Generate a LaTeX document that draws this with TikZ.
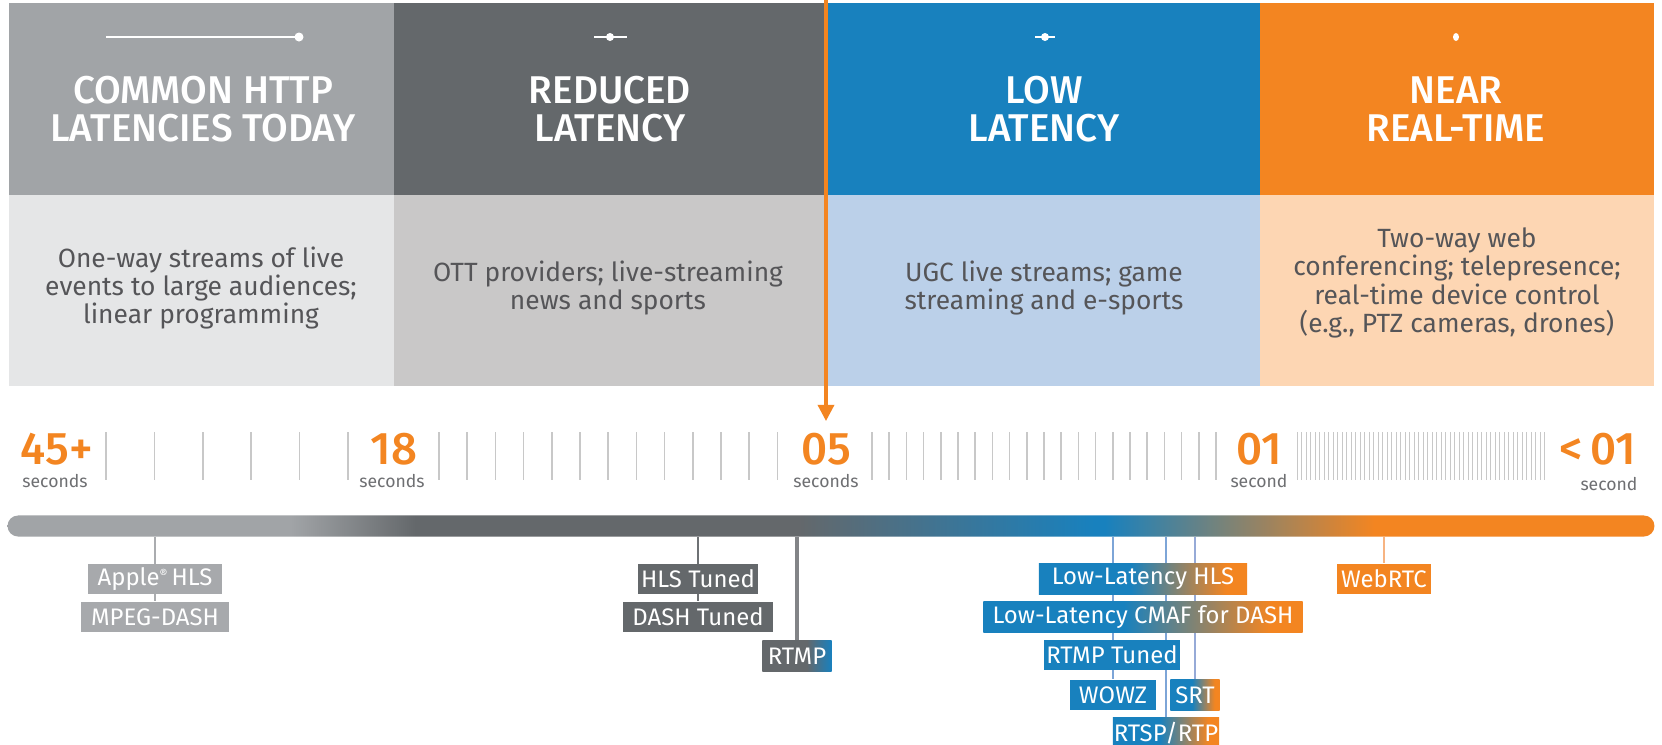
\documentclass[tikz,border=0pt]{standalone}
\usepackage{fontspec}
\setmainfont{Fira Sans}
\newfontfamily\mediumfont{Fira Sans Medium}
\usetikzlibrary{arrows.meta}
\usetikzlibrary{backgrounds}

\definecolor{httpgray}{RGB}{161,164,167}
\definecolor{redgray}{RGB}{100,104,107}
\definecolor{lowblue}{RGB}{24,129,190}
\definecolor{nearorange}{RGB}{243,133,33}
\definecolor{httppale}{RGB}{229,230,231}
\definecolor{redpale}{RGB}{201,200,200}
\definecolor{lowpale}{RGB}{187,208,233}
\definecolor{nearpale}{RGB}{253,214,179}
\definecolor{descgray}{RGB}{85,85,88}
\definecolor{unitgray}{RGB}{110,111,114}
\definecolor{tickgray}{RGB}{200,200,200}
\definecolor{applegray}{RGB}{167,169,172}
\definecolor{httpline}{RGB}{170,172,175}
\definecolor{redline}{RGB}{110,113,116}
\definecolor{rtmpline}{RGB}{130,132,135}
\definecolor{lowline}{RGB}{125,165,215}
\definecolor{srtline}{RGB}{150,170,215}
\definecolor{nearline}{RGB}{247,180,130}

\pgfdeclarehorizontalshading{latencybar}{100bp}{color(0bp)=(httpgray); color(33.6bp)=(httpgray); color(37.4bp)=(redgray); color(49bp)=(redgray); color(58bp)=(lowblue); color(58.3bp)=(lowblue); color(66.5bp)=(nearorange); color(100bp)=(nearorange)}
\pgfdeclarehorizontalshading{blueorange}{100bp}{color(0bp)=(lowblue); color(47bp)=(lowblue); color(70bp)=(nearorange); color(100bp)=(nearorange)}
\pgfdeclarehorizontalshading{grayblue}{100bp}{color(0bp)=(redgray); color(57bp)=(redgray); color(75bp)=(lowblue); color(100bp)=(lowblue)}

\begin{document}
\begin{tikzpicture}
[x=0.01cm,y=-0.01cm,%
  headText/.style={text=white,align=center,font=\mediumfont\fontsize{11}{10.8}\selectfont},%
  descText/.style={text=descgray,align=center,font=\fontsize{7.5}{8.05}\selectfont},%
  bigNum/.style={text=nearorange,inner sep=0pt,font=\mediumfont\fontsize{13}{13}\selectfont},%
  unitText/.style={text=unitgray,inner sep=0pt,font=\fontsize{5}{5}\selectfont},%
  tickDecorate/.style={tickgray,line width=0.4pt},%
  tagDecorate/.style={minimum height=0.3cm,inner sep=0pt,text=white,font=\fontsize{6.8}{7}\selectfont},%
  lineDecorate/.style={line width=0.45pt}]
\useasboundingbox (0,0) rectangle (1662,745);
\begin{scope}[on background layer]
\fill[white] (0,0) rectangle (1662,745);
\end{scope}
%% header and description cells
\foreach \xa/\xb/\top/\bottom in {9/394/httpgray/httppale, 394/827/redgray/redpale,
  827/1260/lowblue/lowpale, 1260/1654/nearorange/nearpale}
{
  \fill[\top] (\xa,3) rectangle (\xb,195);
  \fill[\bottom] (\xa,195) rectangle (\xb,386);
}
%% latency icons
\draw[white,line width=0.6pt] (106,37) -- (299,37);
\fill[white] (299,37) circle (4.5);
\draw[white,line width=0.6pt] (594,37) -- (627,37);
\fill[white] (610,37) circle (4);
\draw[white,line width=0.6pt] (1035,37) -- (1055,37);
\fill[white] (1045,37) circle (4);
\fill[white] (1456,37) ellipse (3 and 4);
%% header labels
\node[headText] (thttp) at (203,109) {COMMON HTTP\\LATENCIES TODAY};
\node[headText] (tred) at (610,109) {REDUCED\\LATENCY};
\node[headText] (tlow) at (1044,109) {LOW\\LATENCY};
\node[headText] (tnear) at (1456,109) {NEAR\\REAL-TIME};
%% descriptions
\node[descText] (dhttp) at (201,288) {One-way streams of live\\events to large audiences;\\linear programming};
\node[descText] (dred) at (608,288) {OTT providers; live-streaming\\news and sports};
\node[descText] (dlow) at (1044,288) {UGC live streams; game\\streaming and e-sports};
\node[descText] (dnear) at (1457,283) {Two-way web\\conferencing; telepresence;\\real-time device control\\(e.g., PTZ cameras, drones)};
%% pointer
\coordinate (pointer) at (826,0);
\coordinate (pointerTip) at (826,421);
\draw[nearorange,line width=0.9pt,-{Triangle[width=4.6pt,length=4.6pt]}] (pointer) -- (pointerTip);
%% scale and its labels
\foreach \nodename/\x/\num/\unit/\ux/\uy in {
  n45/57/45+/seconds/55/481, n18/394/18/seconds/392/481,
  n05/826/05/seconds/826/481, n01/1259/01/second/1259/481,
  nlt/1598/{<\,01}/second/1609/484}
{
  \node[bigNum] (\nodename) at (\x,449) {\num};
  \node[unitText] (u\nodename) at (\ux,\uy) {\unit};
}
\foreach \i in {0,...,5} \draw[tickDecorate] ({106+48.4*\i},432) -- ++(0,48);
\foreach \i in {0,...,12} \draw[tickDecorate] ({439+28.2*\i},432) -- ++(0,48);
\foreach \i in {0,...,20} \draw[tickDecorate] ({872+17.2*\i},432) -- ++(0,48);
\foreach \i in {0,...,55} \draw[tickgray,line width=0.25pt] ({1297+4.5*\i},432) -- ++(0,48);
%% latency bar
\node[shade,shading=latencybar,rounded corners=0.105cm,inner sep=0pt,
  minimum width=16.46cm,minimum height=0.21cm] (bar) at (831,526) {};
%% protocol tags
\node[tagDecorate,fill=applegray,minimum width=1.33cm] (apple) at (155,579) {Apple\raisebox{0.55ex}{\fontsize{3.5}{4}\selectfont ®}\,HLS};
\node[tagDecorate,fill=applegray,minimum width=1.48cm] (mpeg) at (155,617) {MPEG-DASH};
\node[tagDecorate,fill=redgray,minimum width=1.2cm] (hlstuned) at (698,579) {HLS Tuned};
\node[tagDecorate,fill=redgray,minimum width=1.5cm] (dashtuned) at (698,617) {DASH Tuned};
\node[tagDecorate,shade,shading=grayblue,minimum width=0.69cm] (rtmp) at (797,656) {RTMP};
\node[tagDecorate,shade,shading=blueorange,minimum width=2.08cm] (llhls) at (1143,579) {Low-Latency HLS};
\node[tagDecorate,shade,shading=blueorange,minimum width=3.19cm] (llcmaf) at (1143,617) {Low-Latency CMAF for DASH};
\node[tagDecorate,fill=lowblue,minimum width=1.35cm] (rtmptuned) at (1112,655) {RTMP Tuned};
\node[tagDecorate,fill=lowblue,minimum width=0.86cm] (wowz) at (1113,695) {WOWZ};
\node[tagDecorate,shade,shading=blueorange,minimum width=0.49cm] (srt) at (1195,695) {SRT};
\node[tagDecorate,shade,shading=blueorange,minimum width=1.06cm] (rtsp) at (1166,733) {RTSP/RTP};
\node[tagDecorate,fill=nearorange,minimum width=0.94cm] (webrtc) at (1384,579) {WebRTC};
%% connect bar to tags
\begin{scope}[on background layer]
\draw[lineDecorate,httpline] (bar.south -| apple) -- (mpeg);
\draw[lineDecorate,redline] (bar.south -| dashtuned) -- (dashtuned);
\draw[rtmpline,line width=0.9pt] (bar.south -| rtmp) -- (rtmp);
\draw[lineDecorate,lowline] (bar.south -| wowz) -- (wowz);
\draw[lineDecorate,lowline] (bar.south -| rtsp) -- (rtsp);
\draw[lineDecorate,srtline] (bar.south -| srt) -- (srt);
\draw[lineDecorate,nearline] (bar.south -| webrtc) -- (webrtc);
\end{scope}
\end{tikzpicture}
\end{document}
